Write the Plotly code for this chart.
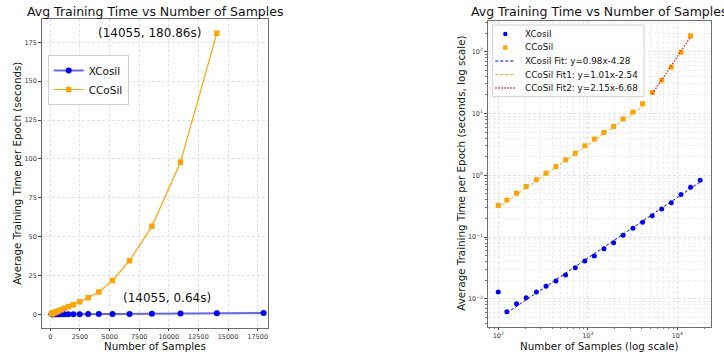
import numpy as np
import plotly.graph_objects as go

# ---------------- data ----------------
samples = [100, 125, 160, 205, 267, 342, 441, 565, 725, 928, 1184, 1517,
           1945, 2480, 3195, 4095, 5250, 6690, 8575, 10985, 14055, 18000]
xcosil_time = [0.0130, 0.0062, 0.0084, 0.0105, 0.0130, 0.0160, 0.0195, 0.0244,
               0.032, 0.041, 0.0495, 0.065, 0.081, 0.107, 0.139, 0.174, 0.222,
               0.285, 0.36, 0.49, 0.64, 0.83]
ccosil_samples = samples[:21]
ccosil_time = [0.325, 0.397, 0.515, 0.66, 0.845, 1.08, 1.39, 1.78, 2.28, 3.0,
               3.85, 4.92, 6.15, 8.1, 10.6, 14.3, 21.8, 34.5, 56.6, 97.8, 180.86]

# log-log fit coefficients (slope, intercept) and the sample ranges they cover
xfit_coef = (0.98, -4.28)
cfit1_coef = (1.01, -2.54)
cfit2_coef = (2.15, -6.68)
xfit_x = samples[1:]
cfit1_x = ccosil_samples[:16]
cfit2_x = ccosil_samples[16:]

xtick_lin = [0, 2500, 5000, 7500, 10000, 12500, 15000, 17500]
ytick_lin = [0, 25, 50, 75, 100, 125, 150, 175]


def fit(xs, coef):
    xs = np.array(xs, dtype=float)
    return 10 ** (coef[0] * np.log10(xs) + coef[1])


W, H = 724, 356
FONT = "DejaVu Sans"
BLUE = "#0000ff"
ORANGE = "#ffa500"
GRID = "#e2e2e2"
SPINE = "#6e6e6e"

fig = go.Figure()

# ---- left: linear plot ----
fig.add_trace(go.Scatter(
    x=samples, y=xcosil_time, mode="lines+markers", name="XCosil",
    line=dict(color="rgba(0,0,255,0.6)", width=2),
    marker=dict(color=BLUE, size=6, symbol="circle"),
    xaxis="x", yaxis="y", legend="legend"))
fig.add_trace(go.Scatter(
    x=ccosil_samples, y=ccosil_time, mode="lines+markers", name="CCoSil",
    line=dict(color=ORANGE, width=1.2),
    marker=dict(color=ORANGE, size=5.5, symbol="square"),
    xaxis="x", yaxis="y", legend="legend"))

# ---- right: log-log plot ----
fig.add_trace(go.Scatter(
    x=samples, y=xcosil_time, mode="markers", name="XCosil",
    marker=dict(color=BLUE, size=5, symbol="circle"),
    xaxis="x2", yaxis="y2", showlegend=False))
fig.add_trace(go.Scatter(
    x=ccosil_samples, y=ccosil_time, mode="markers", name="CCoSil",
    marker=dict(color=ORANGE, size=5, symbol="square"),
    xaxis="x2", yaxis="y2", showlegend=False))
fig.add_trace(go.Scatter(
    x=xfit_x, y=fit(xfit_x, xfit_coef), mode="lines",
    line=dict(color=BLUE, width=1, dash="3px,2px"),
    xaxis="x2", yaxis="y2", showlegend=False))
fig.add_trace(go.Scatter(
    x=cfit1_x, y=fit(cfit1_x, cfit1_coef), mode="lines",
    line=dict(color=ORANGE, width=1, dash="3px,2px"),
    xaxis="x2", yaxis="y2", showlegend=False))
fig.add_trace(go.Scatter(
    x=cfit2_x, y=fit(cfit2_x, cfit2_coef), mode="lines",
    line=dict(color="red", width=1.3, dash="1.3px,1.7px"),
    xaxis="x2", yaxis="y2", showlegend=False))

tickfont = dict(family=FONT, size=6.5, color="#333")
common = dict(showline=True, linecolor=SPINE, linewidth=1, mirror=True,
              ticks="outside", ticklen=2.5, tickcolor="#444", tickwidth=0.8,
              tickfont=tickfont, showgrid=True, gridcolor=GRID, griddash="3px,2px",
              gridwidth=0.8, zeroline=False)
minor = dict(dtick="D1", showgrid=True, gridcolor="#eeeeee", ticks="outside",
             ticklen=1.5, tickcolor="#777", griddash="3px,2px", gridwidth=0.6)

L0, L1, T0, T1 = 41.7, 268.0, 19.0, 327.7
R0, R1, RT0, RT1 = 487.7, 710.7, 20.7, 326.7

fig.update_layout(
    width=W, height=H, margin=dict(l=0, r=0, t=0, b=0),
    paper_bgcolor="white", plot_bgcolor="white",
    font=dict(family=FONT, color="#111"),
    xaxis=dict(domain=[L0 / W, L1 / W], range=[-726, 18371],
               tickvals=xtick_lin, ticktext=[str(v) for v in xtick_lin],
               anchor="y", **common),
    yaxis=dict(domain=[1 - T1 / H, 1 - T0 / H], range=[-8.6, 190],
               tickvals=ytick_lin, ticktext=[str(v) for v in ytick_lin],
               anchor="x", **common),
    xaxis2=dict(domain=[R0 / W, R1 / W], type="log", range=[1.8825, 4.373],
                tickvals=[100, 1000, 10000],
                ticktext=["10<sup>2</sup>", "10<sup>3</sup>", "10<sup>4</sup>"],
                minor=minor, anchor="y2", **common),
    yaxis2=dict(domain=[1 - RT1 / H, 1 - RT0 / H], type="log", range=[-2.448, 2.5],
                tickvals=[0.01, 0.1, 1, 10, 100],
                ticktext=["10<sup>\u22122</sup>", "10<sup>\u22121</sup>",
                          "10<sup>0</sup>", "10<sup>1</sup>", "10<sup>2</sup>"],
                minor=minor, anchor="x2", **common),
    legend=dict(x=47.7 / W, y=1 - 55 / H, xanchor="left", yanchor="top",
                bgcolor="rgba(255,255,255,0.85)", bordercolor="#d0d0d0", borderwidth=1,
                font=dict(family=FONT, size=10.5, color="#111"),
                tracegroupgap=0, itemwidth=30),
    showlegend=True,
)

ann = []
shapes = []
# titles
for cx in [(L0 + L1) / 2, (R0 + R1) / 2]:
    ann.append(dict(text="Avg Training Time vs Number of Samples", x=cx / W, y=1 - 11 / H,
                    xref="paper", yref="paper", showarrow=False,
                    font=dict(family=FONT, size=12.5, color="#111"),
                    xanchor="center", yanchor="middle"))
# x labels
ann.append(dict(text="Number of Samples", x=(L0 + L1) / 2 / W, y=1 - 345.5 / H,
                xref="paper", yref="paper", showarrow=False, xanchor="center",
                font=dict(family=FONT, size=10.3, color="#111"), yanchor="middle"))
ann.append(dict(text="Number of Samples (log scale)", x=(R0 + R1) / 2 / W, y=1 - 345.5 / H,
                xref="paper", yref="paper", showarrow=False, xanchor="center",
                font=dict(family=FONT, size=10.3, color="#111"), yanchor="middle"))
# y labels
ann.append(dict(text="Average Training Time per Epoch (seconds)", x=17.5 / W,
                y=1 - (T0 + T1) / 2 / H, xref="paper", yref="paper", showarrow=False,
                textangle=-90, font=dict(family=FONT, size=10.3, color="#111"),
                xanchor="center", yanchor="middle"))
ann.append(dict(text="Average Training Time per Epoch (seconds, log scale)", x=461 / W,
                y=1 - (RT0 + RT1) / 2 / H, xref="paper", yref="paper", showarrow=False,
                textangle=-90, font=dict(family=FONT, size=10.3, color="#111"),
                xanchor="center", yanchor="middle"))
# point annotations
ann.append(dict(text=f"({ccosil_samples[20]}, {ccosil_time[20]:.2f}s)", x=8400, y=181,
                xref="x", yref="y", showarrow=False,
                font=dict(family=FONT, size=12, color="#111")))
ann.append(dict(text=f"({samples[20]}, {xcosil_time[20]:.2f}s)", x=9820, y=10.3,
                xref="x", yref="y", showarrow=False,
                font=dict(family=FONT, size=12, color="#111")))

# ---- right legend (drawn compactly like matplotlib's) ----
LX0, LX1, LY0, LY1 = 492.7, 644.0, 25.0, 96.7


def px(x):
    return x / W


def py(y):
    return 1 - y / H


shapes.append(dict(type="rect", xref="paper", yref="paper",
                   x0=px(LX0), x1=px(LX1), y0=py(LY1), y1=py(LY0),
                   line=dict(color="#d0d0d0", width=1),
                   fillcolor="rgba(255,255,255,0.85)", layer="above"))
labels = ["XCosil", "CCoSil",
          f"XCosil Fit: y={xfit_coef[0]:.2f}x{xfit_coef[1]:.2f}",
          f"CCoSil Fit1: y={cfit1_coef[0]:.2f}x{cfit1_coef[1]:.2f}",
          f"CCoSil Fit2: y={cfit2_coef[0]:.2f}x{cfit2_coef[1]:.2f}"]
rows = [34.0, 47.5, 61.0, 74.5, 88.0]
mx, r = 505.3, 2.2
shapes.append(dict(type="circle", xref="paper", yref="paper",
                   x0=px(mx - r), x1=px(mx + r), y0=py(rows[0] + r), y1=py(rows[0] - r),
                   fillcolor=BLUE, line=dict(width=0), layer="above"))
shapes.append(dict(type="rect", xref="paper", yref="paper",
                   x0=px(mx - r), x1=px(mx + r), y0=py(rows[1] + r), y1=py(rows[1] - r),
                   fillcolor=ORANGE, line=dict(width=0), layer="above"))
for yrow, col, dash, wd in [(rows[2], BLUE, "3px,2px", 1),
                            (rows[3], ORANGE, "3px,2px", 1),
                            (rows[4], "red", "1.3px,1.7px", 1.3)]:
    shapes.append(dict(type="line", xref="paper", yref="paper",
                       x0=px(495.3), x1=px(514.7), y0=py(yrow), y1=py(yrow),
                       line=dict(color=col, width=wd, dash=dash), layer="above"))
for yrow, lab in zip(rows, labels):
    ann.append(dict(text=lab, x=px(522.7), y=py(yrow), xref="paper", yref="paper",
                    showarrow=False, xanchor="left", yanchor="middle",
                    font=dict(family=FONT, size=8.8, color="#111")))

fig.update_layout(annotations=ann, shapes=shapes)

fig.write_html("out.html")
